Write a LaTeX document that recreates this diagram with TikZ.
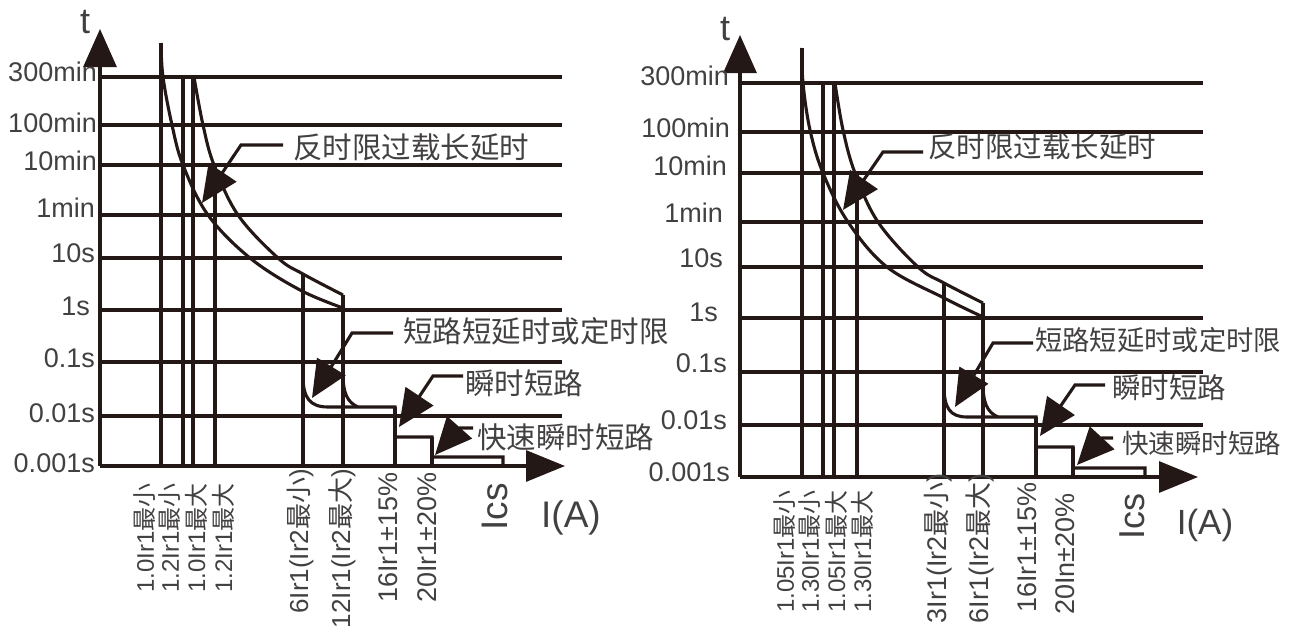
\documentclass[tikz,border=0pt]{standalone}
\usepackage{fontspec}
\setmainfont{Liberation Sans}
\newfontfamily\cjk{Noto Sans CJK SC}
\usetikzlibrary{arrows.meta}
\definecolor{ink}{HTML}{231815}
\definecolor{txt}{HTML}{434040}
\newcommand\zh[1]{{\cjk #1}}
\newcommand\fs[1]{\fontsize{#1}{#1}\selectfont}
\begin{document}
\begin{tikzpicture}[x=1pt,y=-1pt,
  ln/.style={draw=ink, line width=3.1pt},
  yaxis/.style={draw=ink, line width=3.1pt, -{Triangle[length=38pt,width=33pt]}},
  xaxis/.style={draw=ink, line width=3.1pt, -{Triangle[length=39pt,width=31pt]}},
  callout/.style={draw=ink, line width=3.1pt, line join=miter, -{Triangle[length=37pt,width=33pt]}},
  ylab/.style={text=txt, font=\fs{27}, anchor=east, inner sep=0pt},
  tlab/.style={text=txt, font=\fs{36}, inner sep=0pt},
  xsmall/.style={text=txt, font=\fs{24}, rotate=90, anchor=east, inner sep=0pt},
  xbig/.style={text=txt, font=\fs{27}, rotate=90, anchor=east, inner sep=0pt},
  ics/.style={text=txt, font=\fs{37}, rotate=90, anchor=east, inner sep=0pt},
  ialab/.style={text=txt, font=\fs{37}, inner sep=0pt},
  call/.style={text=txt, font=\cjk\fs{29.5}, anchor=west, inner sep=0pt},
]
\useasboundingbox (0,0) rectangle (1292,629);
\clip (0,0) rectangle (1292,629);

%%%%%%%%%%%%%%%% LEFT CHART %%%%%%%%%%%%%%%%
% grid lines
\foreach \yy in {77,125,165,215,258,310,362,416}
  \draw[ln] (100,\yy) -- (562,\yy);
% axes
\coordinate (LO) at (100,466);
\coordinate (LT) at (100,29);
\coordinate (LR) at (565,466);
\draw[yaxis] (LO) -- (LT);
\draw[xaxis] (LO) -- (LR);
% vertical lines
\draw[ln] (161,43) -- (161,466);
\draw[ln] (183,77) -- (183,466);
\draw[ln] (193,77) -- (193,466);
\draw[ln] (215,165) -- (215,466);
\draw[ln] (303,274) -- (303,466);
\draw[ln] (343,295) -- (343,466);
\draw[ln] (395,407) -- (395,466);
\draw[ln] (432,437) -- (432,466);
% curves
\draw[ln] plot[smooth, tension=0.6] coordinates {(161,43) (163,77) (172,125) (183,165) (208,215) (250,258) (300,290) (343,308)};
\draw[ln] plot[smooth, tension=0.6] coordinates {(194,77) (203,125) (214,165) (238,215) (278,258) (303,274) (343,295)};
% steps
\draw[ln] (303,376) .. controls (303,398) and (310,407) .. (328,407) -- (395,407) -- (395,437) -- (432,437) -- (432,457) -- (503,457) -- (503,466);
\draw[ln] (343,373) .. controls (343,393) and (347,402) .. (358,407);
% y labels
\node[tlab] (Lt) at (85,22) {t};
\node[ylab] (L1) at (97,72) {300min};
\node[ylab] (L2) at (97,123) {100min};
\node[ylab] (L3) at (97,161) {10min};
\node[ylab] (L4) at (95,208) {1min};
\node[ylab] (L5) at (95,253) {10s};
\node[ylab] (L6) at (90,306) {1s};
\node[ylab] (L7) at (95,358) {0.1s};
\node[ylab] (L8) at (95,413) {0.01s};
\node[ylab] (L9) at (95,463) {0.001s};
% x labels
\node[xsmall] (X1) at (145,483) {1.0Ir1\zh{最小}};
\node[xsmall] (X2) at (170,483) {1.2Ir1\zh{最小}};
\node[xsmall] (X3) at (196,483) {1.0Ir1\zh{最大}};
\node[xsmall] (X4) at (223,483) {1.2Ir1\zh{最大}};
\node[xbig, font=\fs{26}] (X5) at (300,469) {6Ir1(Ir2\zh{最小})};
\node[xbig, font=\fs{26}] (X6) at (342,469) {12Ir1(Ir2\zh{最大})};
\node[xbig] (X7) at (388,472) {16Ir1±15\%};
\node[xbig] (X8) at (427,472) {20Ir1±20\%};
\node[ics] (X9) at (495,483) {Ics};
\node[ialab] (XA) at (571,518) {I(A)};
% callouts
\node[call] (C1) at (293,147) {反时限过载长延时};
\coordinate (C1t) at (202,203);
\draw[callout] ([shift={(-10,-2)}]C1.west) -- (241,145) -- (C1t);
\node[call] (C2) at (403,331) {短路短延时或定时限};
\coordinate (C2t) at (312,398);
\draw[callout] ([shift={(-10,2)}]C2.west) -- (352,333) -- (C2t);
\node[call] (C3) at (465,383) {瞬时短路};
\coordinate (C3t) at (399,427);
\draw[callout] ([shift={(-2,-7)}]C3.west) -- (433,376) -- (C3t);
\node[call] (C4) at (477,437) {快速瞬时短路};
\coordinate (C4t) at (435,455);
\draw[callout] ([shift={(-4,-9)}]C4.west) -- (459,428) -- (C4t);

%%%%%%%%%%%%%%%% RIGHT CHART %%%%%%%%%%%%%%%%
\foreach \yy in {83,132,173,222,267,318,372,425}
  \draw[ln] (740,\yy) -- (1203,\yy);
\coordinate (RO) at (740,477);
\coordinate (RT) at (740,35);
\coordinate (RR) at (1198,477);
\draw[yaxis] (RO) -- (RT);
\draw[xaxis] (RO) -- (RR);
\draw[ln] (802,48) -- (802,477);
\draw[ln] (823,83) -- (823,477);
\draw[ln] (834,83) -- (834,477);
\draw[ln] (857,173) -- (857,477);
\draw[ln] (944,283) -- (944,477);
\draw[ln] (983,303) -- (983,477);
\draw[ln] (1036,417) -- (1036,477);
\draw[ln] (1073,447) -- (1073,477);
\draw[ln] plot[smooth, tension=0.6] coordinates {(802,48) (803,83) (810,130) (823,173) (848,222) (887,267) (944,298) (983,317)};
\draw[ln] plot[smooth, tension=0.6] coordinates {(835,83) (843,130) (855,173) (878,222) (918,267) (944,283) (983,303)};
\draw[ln] (944,386) .. controls (944,408) and (950,417) .. (967,417) -- (1036,417) -- (1036,447) -- (1073,447) -- (1073,468) -- (1145,468) -- (1145,477);
\draw[ln] (983,383) .. controls (983,403) and (987,412) .. (998,417);
\node[tlab] (Rt) at (725,29) {t};
\node[ylab] (R1) at (729,76) {300min};
\node[ylab] (R2) at (730,128) {100min};
\node[ylab] (R3) at (727,166) {10min};
\node[ylab] (R4) at (723,213) {1min};
\node[ylab] (R5) at (723,258) {10s};
\node[ylab] (R6) at (718,312) {1s};
\node[ylab] (R7) at (727,363) {0.1s};
\node[ylab] (R8) at (727,420) {0.01s};
\node[ylab] (R9) at (730,472) {0.001s};
\node[xsmall] (Y1) at (785,490) {1.05Ir1\zh{最小}};
\node[xsmall] (Y2) at (810,490) {1.30Ir1\zh{最小}};
\node[xsmall] (Y3) at (836,490) {1.05Ir1\zh{最大}};
\node[xsmall] (Y4) at (862,490) {1.30Ir1\zh{最大}};
\node[xbig] (Y5) at (938,473) {3Ir1(Ir2\zh{最小})};
\node[xbig] (Y6) at (980,473) {6Ir1(Ir2\zh{最大})};
\node[xbig] (Y7) at (1027,482) {16Ir1±15\%};
\node[xbig] (Y8) at (1065,493) {20In±20\%};
\node[ics, font=\fs{36}] (Y9) at (1132,493) {Ics};
\node[ialab, font=\fs{35}] (YA) at (1205,525) {I(A)};
\node[call, font=\cjk\fs{28.5}] (D1) at (928,147) {反时限过载长延时};
\coordinate (D1t) at (843,210);
\draw[callout] ([shift={(-5,5)}]D1.west) -- (883,152) -- (D1t);
\node[call, font=\cjk\fs{27.3}] (D2) at (1035,340) {短路短延时或定时限};
\coordinate (D2t) at (955,407);
\draw[callout] ([shift={(-2,3)}]D2.west) -- (993,343) -- (D2t);
\node[call, font=\cjk\fs{28.5}] (D3) at (1112,388) {瞬时短路};
\coordinate (D3t) at (1040,436);
\draw[callout] ([shift={(-7,-3)}]D3.west) -- (1075,385) -- (D3t);
\node[call, font=\cjk\fs{26.5}] (D4) at (1122,443) {快速瞬时短路};
\coordinate (D4t) at (1077,465);
\draw[callout] ([shift={(-9,-5)}]D4.west) -- (1102,438) -- (D4t);
\end{tikzpicture}
\end{document}
